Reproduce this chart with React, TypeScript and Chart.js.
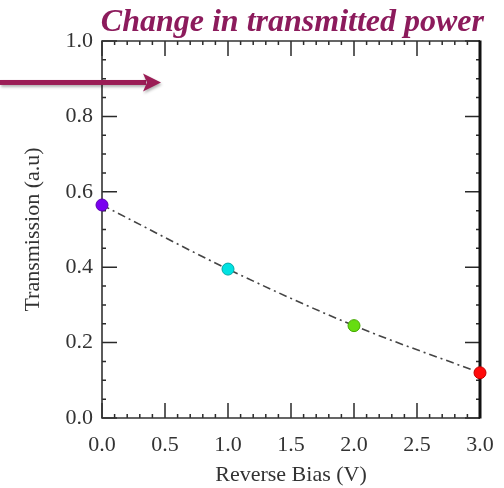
import { useEffect, useRef } from "react";
import { Chart, registerables } from "chart.js";

Chart.register(...registerables);

const biasVolts = [0, 1, 2, 3];
const transmission = [0.565, 0.395, 0.245, 0.12];
const pointColors = ["#7a00f0", "#00e2e2", "#66dd10", "#ff0a0a"];
const pointBorders = ["#5a00b0", "#00a8a8", "#44a800", "#c00000"];
const titleText = "Change in transmitted power";
const xAxisTitle = "Reverse Bias (V)";
const yAxisTitle = "Transmission (a.u)";
const arrowLevel = 0.89;

const serif = '"Liberation Serif", "DejaVu Serif", serif';

const framePlugin = {
  id: "frameTicks",
  beforeDatasetsDraw(chart: any) {
    const { ctx, chartArea: a, scales } = chart;
    const x = scales.x;
    const y = scales.y;
    ctx.save();
    ctx.strokeStyle = "#2a2a2a";
    ctx.lineWidth = 1.5;
    ctx.beginPath();
    for (let i = 0; i <= 30; i++) {
      const px = x.getPixelForValue(i / 10);
      const len = i % 5 === 0 ? 15 : 4;
      ctx.moveTo(px, a.bottom);
      ctx.lineTo(px, a.bottom - len);
      ctx.moveTo(px, a.top);
      ctx.lineTo(px, a.top + len);
    }
    for (let i = 0; i <= 20; i++) {
      const py = y.getPixelForValue(i / 20);
      const len = i % 4 === 0 ? 15 : 4;
      ctx.moveTo(a.left, py);
      ctx.lineTo(a.left + len, py);
      ctx.moveTo(a.right, py);
      ctx.lineTo(a.right - len, py);
    }
    ctx.stroke();
    ctx.lineWidth = 1.6;
    ctx.strokeStyle = "#333";
    ctx.beginPath();
    ctx.moveTo(a.right, a.top);
    ctx.lineTo(a.left, a.top);
    ctx.lineTo(a.left, a.bottom);
    ctx.lineTo(a.right, a.bottom);
    ctx.stroke();
    ctx.lineWidth = 3;
    ctx.strokeStyle = "#111";
    ctx.beginPath();
    ctx.moveTo(a.right, a.top - 0.5);
    ctx.lineTo(a.right, a.bottom + 0.5);
    ctx.stroke();
    ctx.restore();
  },
  afterDraw(chart: any) {
    const { ctx, chartArea: a, scales } = chart;
    const y = scales.y;
    ctx.save();
    // title
    ctx.font = `bold italic 32px ${serif}`;
    ctx.fillStyle = "#8c1b5c";
    ctx.textAlign = "right";
    ctx.textBaseline = "alphabetic";
    ctx.fillText(titleText, a.right + 4, 31);
    // arrow
    const ay = y.getPixelForValue(arrowLevel);
    ctx.shadowColor = "rgba(0,0,0,0.3)";
    ctx.shadowBlur = 3;
    ctx.shadowOffsetX = 1;
    ctx.shadowOffsetY = 2;
    ctx.fillStyle = "#9b1d56";
    ctx.fillRect(0, ay - 2.5, 146, 5);
    ctx.beginPath();
    ctx.moveTo(143, ay - 9);
    ctx.lineTo(161, ay);
    ctx.lineTo(143, ay + 9);
    ctx.lineTo(147, ay);
    ctx.closePath();
    ctx.fill();
    ctx.restore();
  },
};

export default function App() {
  const ref = useRef<HTMLCanvasElement>(null);
  useEffect(() => {
    if (!ref.current) return;
    const chart = new Chart(ref.current, {
      type: "line",
      data: {
        datasets: [
          {
            data: biasVolts.map((v, i) => ({ x: v, y: transmission[i] })),
            borderColor: "#444",
            borderWidth: 1.6,
            borderDash: [8, 4, 2, 4],
            cubicInterpolationMode: "monotone",
            pointRadius: 6,
            pointBackgroundColor: pointColors,
            pointBorderColor: pointBorders,
            pointBorderWidth: 1,
            clip: false as any,
          },
        ],
      },
      options: {
        responsive: false,
        animation: false,
        layout: { padding: { top: 41, right: 24, left: 0, bottom: 0 } },
        plugins: { legend: { display: false }, tooltip: { enabled: false }, title: { display: false } },
        scales: {
          x: {
            type: "linear",
            min: 0,
            max: 3,
            border: { display: false },
            grid: { display: false, drawTicks: false },
            ticks: {
              stepSize: 0.5,
              padding: 14,
              color: "#333",
              font: { family: serif, size: 22 },
              callback: (v: any) => Number(v).toFixed(1),
            },
            title: {
              display: true,
              text: xAxisTitle,
              color: "#333",
              font: { family: serif, size: 22 },
              padding: { top: 0, bottom: 0 },
            },
            afterFit: (s: any) => {
              s.height = 70;
              s.paddingLeft = 0;
              s.paddingRight = 0;
            },
          },
          y: {
            type: "linear",
            min: 0,
            max: 1,
            border: { display: false },
            grid: { display: false, drawTicks: false },
            ticks: {
              stepSize: 0.2,
              padding: 9,
              color: "#333",
              font: { family: serif, size: 22 },
              callback: (v: any) => Number(v).toFixed(1),
            },
            title: {
              display: true,
              text: yAxisTitle,
              color: "#333",
              font: { family: serif, size: 22 },
              padding: { top: 20, bottom: 0 },
            },
            afterFit: (s: any) => {
              s.width = 102;
              s.paddingTop = 0;
              s.paddingBottom = 0;
            },
          },
        },
      },
      plugins: [framePlugin],
    });
    return () => chart.destroy();
  }, []);
  return (
    <div style={{ position: "fixed", left: 0, top: 0, width: 504, height: 488, background: "#fff" }}>
      <canvas ref={ref} width={504} height={488} style={{ display: "block" }} />
    </div>
  );
}
